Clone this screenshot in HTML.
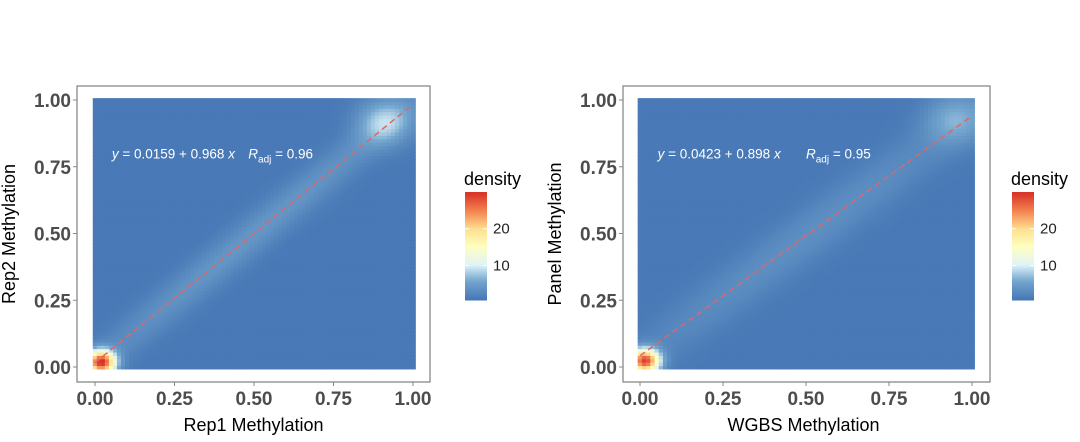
<!DOCTYPE html>
<html><head><meta charset="utf-8">
<style>
body{margin:0;background:#fff;width:1080px;height:437px;overflow:hidden;font-family:"Liberation Sans",sans-serif;}
svg text{font-family:"Liberation Sans",sans-serif;}
</style></head>
<body>
<svg id="chart" width="1080" height="437"></svg>
<script>
// ---- data ----
const tickValues = [0, 0.25, 0.5, 0.75, 1];
const tickLabels = ["0.00", "0.25", "0.50", "0.75", "1.00"];
const legendTicks = [10, 20];
const panelXTitles = ["Rep1 Methylation", "WGBS Methylation"];
const panelYTitles = ["Rep2 Methylation", "Panel Methylation"];
const intercepts = [0.0159, 0.0423];
const slopes = [0.968, 0.898];
const rAdj = [0.96, 0.95];
// density components per panel: [x, y, peak, sigma]
const peaksLeft = [[0.02, 0.02, 28, 0.03], [0.91, 0.92, 6.5, 0.06]];
const peaksRight = [[0.015, 0.025, 27, 0.03], [0.95, 0.93, 4.5, 0.065]];
const ridgeHeight = [3.2, 2.4];
const ridgeWidth = [0.045, 0.06];
const baseDensity = [1, 1];
const densityMin = 0.6, densityMax = 30;

const NS = "http://www.w3.org/2000/svg";
const svg = document.getElementById("chart");
function mk(tag, attrs, parent){const e=document.createElementNS(NS,tag);for(const k in attrs)e.setAttribute(k,attrs[k]);(parent||svg).appendChild(e);return e;}

const stops=[[0,[69,117,180]],[0.18,[116,166,206]],[0.33,[224,243,248]],[0.5,[255,255,191]],[0.66,[254,224,144]],[0.83,[244,130,80]],[1,[215,48,39]]];
function color(v){let t=(v-densityMin)/(densityMax-densityMin);t=Math.max(0,Math.min(1,t));
 for(let i=1;i<stops.length;i++){if(t<=stops[i][0]){const a=stops[i-1],b=stops[i];const f=(t-a[0])/(b[0]-a[0]);
 return "rgb("+a[1].map((c,j)=>Math.round(c+(b[1][j]-c)*f)).join(",")+")";}}return "rgb(215,48,39)";}

const panels=[
 {box:[77,86,430,382],x0:95,x1:413,peaks:peaksLeft,leg:465},
 {box:[623,86,990,382],x0:640,x1:972,peaks:peaksRight,leg:1012}
];
const y0=367,y1=100;

panels.forEach((p,pi)=>{
 const sx=v=>p.x0+(p.x1-p.x0)*v, sy=v=>y0+(y1-y0)*v;
 const g=mk("g",{});
 
 
 const frame=mk("rect",{x:p.box[0],y:p.box[1],width:p.box[2]-p.box[0],height:p.box[3]-p.box[1],fill:"#fff",stroke:"#888","stroke-width":1.3},g);
 
 
 const heat=mk("g",{},g);
 
 
 const N=80, lo=-0.007, hi=1.007, step=(hi-lo)/N;
 const a=intercepts[pi], b=slopes[pi];
 for(let i=0;i<N;i++)for(let j=0;j<N;j++){
  const x=lo+(i+0.5)*step, y=lo+(j+0.5)*step;
  let d=baseDensity[pi];
  p.peaks.forEach(k=>{const dx=x-k[0],dy=y-k[1];d+=k[2]*Math.exp(-(dx*dx+dy*dy)/(2*k[3]*k[3]));});
  const dist=(y-(a+b*x))/Math.sqrt(1+b*b);
  d+=ridgeHeight[pi]*Math.exp(-dist*dist/(2*ridgeWidth[pi]*ridgeWidth[pi]))*Math.min(1,0.5+0.5*Math.sin(Math.PI*Math.min(1,Math.max(0,x))));
  const cx=sx(lo+i*step), cy=sy(lo+(j+1)*step);
  mk("rect",{x:cx,y:cy,width:(sx(step)-sx(0))+0.6,height:(sy(0)-sy(step))+0.6,fill:color(d)},heat);
 }
 const line=mk("line",{x1:sx(0),y1:sy(a),x2:sx(1),y2:sy(a+b),stroke:"#e06666","stroke-width":1.5,"stroke-dasharray":"6,4"},g);
 
 
 const eq=mk("text",{x:sx(0.053),y:sy(0.78),fill:"#fff","font-size":13.5},g);
 
 
 eq.innerHTML='<tspan font-style="italic">y</tspan> = '+a.toFixed(4)+' + '+b.toFixed(3)+' <tspan font-style="italic">x</tspan>';
 const rr=mk("text",{x:sx(pi?0.5:0.482),y:sy(0.78),fill:"#fff","font-size":13.5},g);
 
 
 rr.innerHTML='<tspan font-style="italic">R</tspan><tspan font-size="10" dy="4">adj</tspan><tspan dy="-4"> = '+rAdj[pi].toFixed(2)+'</tspan>';
 tickValues.forEach((v,k)=>{
  mk("line",{x1:sx(v),x2:sx(v),y1:p.box[3],y2:p.box[3]+4,stroke:"#888"},g);
  const tx=mk("text",{x:sx(v),y:p.box[3]+23,"text-anchor":"middle","font-size":19,"font-weight":"bold",fill:"#4d4d4d"},g);
  tx.textContent=tickLabels[k];
  
  
  mk("line",{x1:p.box[0]-4,x2:p.box[0],y1:sy(v),y2:sy(v),stroke:"#888"},g);
  const ty=mk("text",{x:p.box[0]-6,y:sy(v)+7,"text-anchor":"end","font-size":19,"font-weight":"bold",fill:"#4d4d4d"},g);
  ty.textContent=tickLabels[k];
  
  
 });
 const xt=mk("text",{x:(p.box[0]+p.box[2])/2+(pi?-3:0),y:431,"text-anchor":"middle","font-size":18,fill:"#000"},g);
 xt.textContent=panelXTitles[pi];
 
 
 const yx=p.box[0]-62;
 const yt=mk("text",{x:yx,y:234,"text-anchor":"middle","font-size":18,fill:"#000",transform:"rotate(-90 "+yx+" 234)"},g);
 yt.textContent=panelYTitles[pi];
 
 
 // legend
 const lg=mk("g",{},g);
 
 
 const lt=mk("text",{x:p.leg-1,y:185,"font-size":18,fill:"#000"},lg);
 lt.textContent="density";
 const barTop=192,barBot=300,M=60;
 for(let i=0;i<M;i++){
  const v=densityMin+(densityMax-densityMin)*(i+0.5)/M;
  mk("rect",{x:p.leg,y:barBot-(i+1)*(barBot-barTop)/M,width:22,height:(barBot-barTop)/M+0.5,fill:color(v)},lg);
 }
 legendTicks.forEach(v=>{
  const yy=barBot-(v-densityMin)/(densityMax-densityMin)*(barBot-barTop);
  mk("line",{x1:p.leg,x2:p.leg+4,y1:yy,y2:yy,stroke:"#fff"},lg);
  mk("line",{x1:p.leg+18,x2:p.leg+22,y1:yy,y2:yy,stroke:"#fff"},lg);
  const t=mk("text",{x:p.leg+28,y:yy+5,"font-size":15,fill:"#222"},lg);
  t.textContent=v;
 });
});
</script>
</body></html>
